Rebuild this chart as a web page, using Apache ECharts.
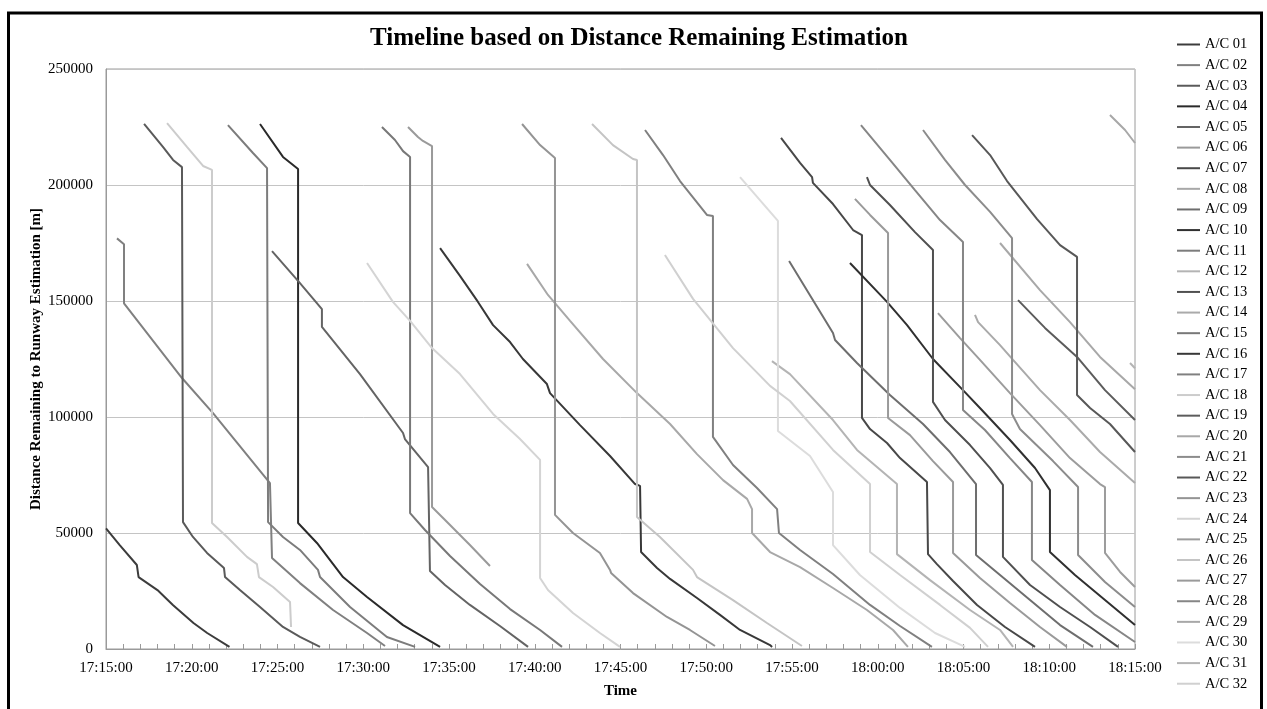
<!DOCTYPE html>
<html>
<head>
<meta charset="utf-8">
<script src="https://cdn.jsdelivr.net/npm/echarts@6/dist/echarts.min.js"></script>
<style>html,body{margin:0;padding:0;background:#fff}#c{width:1267px;height:709px}</style>
</head>
<body>
<div id="c"></div>
<script>
// x values: minutes after 17:15:00 ; y values: distance remaining [m]
const xTickLabels = ['17:15:00','17:20:00','17:25:00','17:30:00','17:35:00','17:40:00','17:45:00','17:50:00','17:55:00','18:00:00','18:05:00','18:10:00','18:15:00'];
const seriesNames = ['A/C 01','A/C 02','A/C 03','A/C 04','A/C 05','A/C 06','A/C 07','A/C 08','A/C 09','A/C 10','A/C 11','A/C 12','A/C 13','A/C 14','A/C 15','A/C 16','A/C 17','A/C 18','A/C 19','A/C 20','A/C 21','A/C 22','A/C 23','A/C 24','A/C 25','A/C 26','A/C 27','A/C 28','A/C 29','A/C 30','A/C 31','A/C 32'];

const ac01 = [[0,52000],[0.8,44800],[1.8,36200],[1.9,31000],[3.0,25400],[3.9,19000],[5.1,11200],[5.9,6900],[7.2,900]];
const ac02 = [[0.64,177000],[1.05,174500],[1.05,149000],[4.43,116800],[6.24,101700],[9.56,71500],[9.68,39200],[11.31,28400],[13.24,16800],[15.22,6900],[16.27,1300]];
const ac03 = [[2.22,226300],[3.32,216400],[3.91,210800],[4.43,207700],[4.49,54700],[5.07,48300],[5.89,41400],[6.88,34900],[6.94,31000],[7.81,25400],[8.98,18100],[10.32,9500],[11.31,5200],[12.48,900]];
const ac04 = [[8.98,226300],[10.32,212100],[11.2,206900],[11.2,54300],[12.3,45700],[13.82,31000],[15.22,22400],[17.32,10300],[19.48,900]];
const ac05 = [[9.68,171500],[11.31,157700],[12.59,146500],[12.59,138800],[14.81,118500],[17.32,93100],[17.43,90500],[18.78,78400],[18.89,33600],[19.77,27600],[21.22,19000],[22.97,9900],[24.61,900]];
const ac06 = [[17.61,225000],[18.19,220700],[18.48,219000],[19.01,216800],[19.01,61200],[19.77,55600],[21.22,44800],[22.39,35800]];
const ac07 = [[39.36,220300],[40.47,209500],[41.17,203400],[41.22,200900],[42.39,191800],[43.56,180600],[44.08,178400],[44.08,99600],[44.55,94800],[45.54,88800],[46.3,82300],[47.87,72000],[47.93,40900],[48.45,36600],[49.39,29300],[50.79,19000],[52.42,9500],[54.17,900]];
const ac08 = [[24.55,166000],[25.77,152600],[27.06,141400],[28.98,125000],[30.96,110300],[32.89,97000],[34.46,84000],[35.98,72800],[37.38,64700],[37.67,60300],[37.67,50000],[38.72,41800],[40.47,35300],[42.39,26300],[44.37,16800],[45.89,8200],[46.76,900]];
const ac09 = [[39.83,167200],[42.39,136200],[42.51,133200],[43.79,123300],[45.71,109500],[47.64,97000],[49.21,84900],[50.73,71100],[50.73,40500],[52.13,31900],[53.88,21100],[55.63,10300],[57.55,900]];
const ac10 = [[43.38,166400],[45.54,149600],[46.71,139600],[48.22,125000],[49.97,111600],[50.96,103900],[52.71,90100],[54.17,78000],[55.04,68500],[55.04,41800],[56.5,31900],[58.25,21100],[60,10300]];
const ac11 = [[7.11,225800],[8.57,213800],[9.39,207300],[9.45,54700],[10.32,48300],[11.31,42700],[12.36,34100],[12.48,31000],[14.23,18100],[16.38,5200],[18.02,900]];
const ac12 = [[38.83,124100],[39.88,118500],[42.39,98700],[43.79,85800],[46.12,71100],[46.12,40900],[48.05,29700],[50.38,16800],[52.13,8200],[52.89,900]];
const ac13 = [[44.37,203400],[44.55,200000],[45.71,191400],[47.17,179700],[48.22,172000],[48.22,106500],[48.92,98700],[50.38,87900],[51.55,78000],[52.3,70700],[52.3,39700],[53.88,27600],[55.63,18100],[57.38,9500],[59.01,900]];
const ac14 = [[50.67,144000],[50.85,140900],[52.13,131000],[52.89,124600],[54.46,111600],[56.21,98700],[57.96,84900],[60,71500]];
const ac15 = [[16.09,225000],[16.85,219400],[17.32,214600],[17.73,212100],[17.73,58600],[18.6,51300],[20.06,40100],[21.81,28000],[23.56,17200],[25.31,8200],[26.59,900]];
const ac16 = [[19.48,172800],[20.64,160800],[21.69,149600],[22.57,139600],[23.56,132300],[24.31,125000],[25.71,114200],[25.89,110300],[27.64,96500],[29.39,83200],[30.85,71100],[31.14,70300],[31.2,41800],[32.13,34900],[32.89,30200],[34.46,22000],[35.8,14700],[36.97,8200],[38.72,1700],[38.84,900]];
const ac17 = [[31.43,223700],[32.48,212900],[33.47,201700],[35.04,187100],[35.39,186600],[35.39,91400],[36.56,79300],[37.96,69400],[39.13,60300],[39.24,50000],[40.47,42700],[42.39,32300],[44.55,19000],[46.3,9900],[48.16,900]];
const ac18 = [[3.56,226700],[4.72,216400],[5.66,208200],[6.18,206500],[6.18,54300],[7.06,48300],[8.22,39700],[8.8,36600],[8.92,31000],[9.74,26700],[10.73,20300],[10.79,9500]];
const ac19 = [[53.18,150400],[54.75,138400],[56.62,125900],[58.25,111600],[60,98700]];
const ac20 = [[52.13,175000],[54.46,154700],[56.21,140900],[57.96,125900],[60,112000]];
const ac21 = [[47.64,223700],[48.92,210800],[50.09,200000],[51.55,188400],[52.83,177100],[52.83,101300],[53.29,94800],[55.22,81000],[56.68,69800],[56.68,40500],[58.25,28900],[60,18100]];
const ac22 = [[50.5,221500],[51.55,212900],[52.54,201700],[54.29,185300],[55.63,174100],[56.62,169000],[56.62,109500],[57.38,103900],[58.54,97000],[60,84900]];
const ac23 = [[24.26,226300],[25.31,217200],[26.18,211600],[26.18,57800],[27.23,50000],[28.8,41400],[29.39,34100],[29.45,32800],[30.73,24100],[32.71,13800],[34.05,8200],[35.51,1300]];
const ac24 = [[15.22,166400],[16.73,149600],[17.73,141400],[19.01,129700],[20.64,118500],[22.57,101300],[24.14,90500],[25.31,81500],[25.31,30600],[25.77,25400],[27.23,15500],[28.8,6900],[29.97,900]];
const ac25 = [[48.51,144800],[49.8,134000],[50.96,124600],[52.71,110300],[54.46,96500],[56.21,82300],[57.96,71100],[58.25,69800],[58.25,41400],[59.13,33200],[60,26700]];
const ac26 = [[28.34,226300],[29.56,217200],[30.73,211200],[30.96,210800],[30.96,56900],[32.3,48300],[34.23,34100],[34.46,31000],[36.56,21100],[38.54,11200],[40.58,1300]];
const ac27 = [[43.67,194000],[44.55,187100],[45.6,179300],[45.6,99600],[46.88,92200],[48.22,81000],[49.39,72000],[49.39,41400],[50.96,30600],[52.71,19800],[54.46,9500],[56.03,900]];
const ac28 = [[44.02,225800],[45.71,210800],[47.17,197800],[48.63,184900],[49.97,175400],[49.97,103000],[51.25,94400],[52.71,82300],[53.99,72000],[53.99,38400],[55.63,27600],[57.67,14700],[60,3000]];
const ac29 = [[58.54,230200],[59.42,223700],[60,218100]];
const ac30 = [[36.97,203400],[38.13,193500],[39.18,184500],[39.18,94000],[41.05,83200],[42.39,67700],[42.39,44800],[43.96,31900],[46.3,17700],[48.34,6900],[50.09,900]];
const ac31 = [[59.71,123300],[60,121000]];
const ac32 = [[32.59,169800],[34.23,150900],[36.56,129700],[38.72,113400],[39.88,106900],[42.39,85800],[44.55,71100],[44.55,41800],[46.3,31900],[48.63,19000],[50.38,9100],[51.43,900]];

const seriesData = [ac01,ac02,ac03,ac04,ac05,ac06,ac07,ac08,ac09,ac10,ac11,ac12,ac13,ac14,ac15,ac16,ac17,ac18,ac19,ac20,ac21,ac22,ac23,ac24,ac25,ac26,ac27,ac28,ac29,ac30,ac31,ac32];

// styles
const lineColors = ['#3c3c3c','#808080','#5a5a5a','#2a2a2a','#646464','#9a9a9a','#484848','#a8a8a8','#6e6e6e','#303030','#7c7c7c','#b4b4b4','#505050','#aaaaaa','#787878','#383838','#808080','#cccccc','#5c5c5c','#a8a8a8','#8c8c8c','#585858','#949494','#d4d4d4','#9c9c9c','#c4c4c4','#9a9a9a','#868686','#a8a8a8','#dcdcdc','#b4b4b4','#d0d0d0'];
const FONT = 'Liberation Serif';

const chart = echarts.init(document.getElementById('c'), null, {renderer:'canvas'});
chart.setOption({
  animation: false,
  backgroundColor: '#fff',
  graphic: [
    {type:'rect', shape:{x:8.5, y:13, width:1253, height:720}, style:{fill:'none', stroke:'#000', lineWidth:3}, z:100},
    {type:'text', x:639, y:39, style:{text:'Timeline based on Distance Remaining Estimation', font:'bold 25px "' + FONT + '"', fill:'#000', textAlign:'center', textVerticalAlign:'middle'}}
  ],
  grid: {left:106, right:132, top:69, bottom:60, show:true, borderColor:'#9a9a9a', borderWidth:1},
  legend: {
    type:'plain', orient:'vertical', left:1172, top:32, itemWidth:23, itemHeight:2, itemGap:5.62,
    icon:'rect',
    data: seriesNames,
    textStyle:{fontFamily:FONT, fontSize:14.5, color:'#000'}
  },
  xAxis: {
    type:'value', min:0, max:60, interval:5,
    name:'Time', nameLocation:'middle', nameGap:35,
    nameTextStyle:{fontFamily:FONT, fontSize:15, fontWeight:'bold', color:'#000'},
    axisLine:{lineStyle:{color:'#9a9a9a'}},
    axisTick:{show:true, inside:true, length:5, lineStyle:{color:'#9a9a9a'}},
    minorTick:{show:true, splitNumber:5, length:5, lineStyle:{color:'#9a9a9a'}},
    splitLine:{show:false},
    axisLabel:{fontFamily:FONT, fontSize:15, color:'#000', margin:12,
      formatter: v => xTickLabels[Math.round(v/5)]}
  },
  yAxis: {
    type:'value', min:0, max:250000, interval:50000,
    name:'Distance Remaining to Runway Estimation [m]', nameLocation:'middle', nameGap:62,
    nameMoveOverlap:false,
    nameTextStyle:{fontFamily:FONT, fontSize:15, fontWeight:'bold', color:'#000'},
    axisLine:{show:true, lineStyle:{color:'#9a9a9a'}},
    axisTick:{show:false},
    splitLine:{show:true, lineStyle:{color:'#c4c4c4'}},
    axisLabel:{fontFamily:FONT, fontSize:15, color:'#000', margin:13, formatter: v => String(v)}
  },
  series: seriesData.map((d,i) => ({
    type:'line', name:seriesNames[i], data:d, symbol:'none', showSymbol:false,
    lineStyle:{color:lineColors[i], width:2}, itemStyle:{color:lineColors[i]},
    emphasis:{disabled:true}, silent:true
  }))
});
</script>
</body>
</html>
